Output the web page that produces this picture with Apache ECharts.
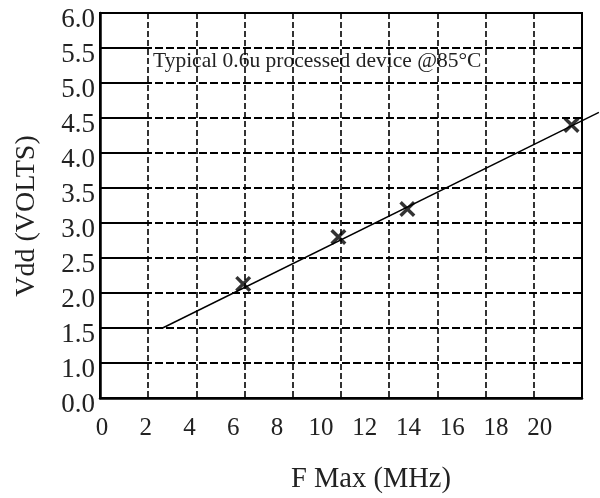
<!DOCTYPE html>
<html>
<head>
<meta charset="utf-8">
<script src="https://cdn.jsdelivr.net/npm/echarts@6/dist/echarts.min.js"></script>
<style>html,body{margin:0;padding:0;background:#fff}#c{width:600px;height:498px}</style>
</head>
<body>
<div id="c"></div>
<script>
// Data
const xTickValues = [0, 2, 4, 6, 8, 10, 12, 14, 16, 18, 20];          // F Max (MHz) tick labels
const yTickLabels = ['0.0', '1.0', '1.5', '2.0', '2.5', '3.0', '3.5', '4.0', '4.5', '5.0', '5.5', '6.0'];
const measuredFreq = [6.45, 10.8, 13.95, 21.45];   // MHz
const measuredVdd  = [2.13, 2.8, 3.2, 4.4];        // volts
const fitFreq = [2.77, 22.7];                      // trend line end points (MHz)
const fitVdd  = [1.5, 4.58];                       // trend line end points (V)
const noteText = 'Typical 0.6u processed device @85°C';
const xTitle = 'F Max (MHz)';
const yTitle = 'Vdd (VOLTS)';

const FONT = '"Liberation Serif", "Times New Roman", serif';
const chart = echarts.init(document.getElementById('c'), null, {renderer: 'canvas'});

const xFirst = xTickValues[0];
const pxPerMHz = 22.07;
const labelAxisMax = 22.75;   // label axis runs on past the last label so the trend line is not cut

// y axis is drawn with equal steps; bottom step is labelled 0.0 (broken axis)
const yLabelFor = v => {
  const idx = Math.round((v - 0.5) / 0.5);
  return yTickLabels[idx] !== undefined ? '{a|' + yTickLabels[idx] + '}' : '';
};
const xLabelFor = v => (xTickValues.indexOf(Math.round(v * 1000) / 1000) >= 0 ? String(v) : '');

const crossPath = 'path://M0,3L3,0L10,7L17,0L20,3L13,10L20,17L17,20L10,13L3,20L0,17L7,10Z';

chart.setOption({
  animation: false,
  backgroundColor: '#fff',
  grid: [
    {left: 100, top: 13, width: 482, height: 385, show: true, borderColor: '#000', borderWidth: 2, backgroundColor: 'transparent'},
    {left: 102, top: 13, width: pxPerMHz * labelAxisMax, height: 385, show: false}
  ],
  xAxis: [
    {
      type: 'value', gridIndex: 0, min: 0, max: 10, interval: 1,
      axisLine: {show: true, onZero: false, lineStyle: {color: '#000', width: 2.5}},
      axisTick: {show: false},
      axisLabel: {show: false},
      splitLine: {show: true, lineStyle: {color: '#000', width: 1.6, type: [6, 3]}}
    },
    {
      type: 'value', gridIndex: 1, min: xFirst, max: labelAxisMax, interval: 2,
      axisLine: {show: false},
      axisTick: {show: false},
      splitLine: {show: false},
      axisLabel: {show: true, color: '#222', fontFamily: FONT, fontSize: 25, margin: 18,
        formatter: xLabelFor, showMinLabel: true, showMaxLabel: false}
    }
  ],
  yAxis: [
    {
      type: 'value', gridIndex: 0, min: 0.5, max: 6, interval: 0.5,
      axisLine: {show: true, onZero: false, lineStyle: {color: '#000', width: 2.5}},
      axisTick: {show: true, inside: true, length: 50, lineStyle: {color: '#000', width: 2}},
      axisLabel: {show: true, color: '#222', fontFamily: FONT, fontSize: 27, margin: 5,
        formatter: yLabelFor,
        rich: {a: {fontFamily: FONT, fontSize: 27, color: '#222', padding: [14, 0, 0, 0]}}},
      splitLine: {show: true, lineStyle: {color: '#000', width: 2, type: [8, 3]}}
    },
    {
      type: 'value', gridIndex: 1, min: 0.5, max: 6, interval: 0.5, show: false
    }
  ],
  series: [
    {
      type: 'line', xAxisIndex: 1, yAxisIndex: 1, clip: false,
      data: fitFreq.map((f, i) => [f, fitVdd[i]]),
      showSymbol: false, symbol: 'none',
      lineStyle: {color: '#000', width: 1.4}
    },
    {
      type: 'scatter', xAxisIndex: 1, yAxisIndex: 1, clip: false,
      data: measuredFreq.map((f, i) => [f, measuredVdd[i]]),
      symbol: crossPath, symbolSize: 16,
      itemStyle: {color: '#000'}
    }
  ],
  graphic: [
    {type: 'text', x: 153, y: 61, silent: true,
      style: {text: noteText, font: '21.5px ' + FONT, fill: '#222', align: 'left', verticalAlign: 'middle'}},
    {type: 'text', x: 371, y: 480, silent: true,
      style: {text: xTitle, font: '28.5px ' + FONT, fill: '#222', align: 'center', verticalAlign: 'middle'}},
    {type: 'text', x: 27, y: 216, rotation: Math.PI / 2, silent: true,
      style: {text: yTitle, font: '28px ' + FONT, fill: '#222', align: 'center', verticalAlign: 'middle'}}
  ]
});
</script>
</body>
</html>
